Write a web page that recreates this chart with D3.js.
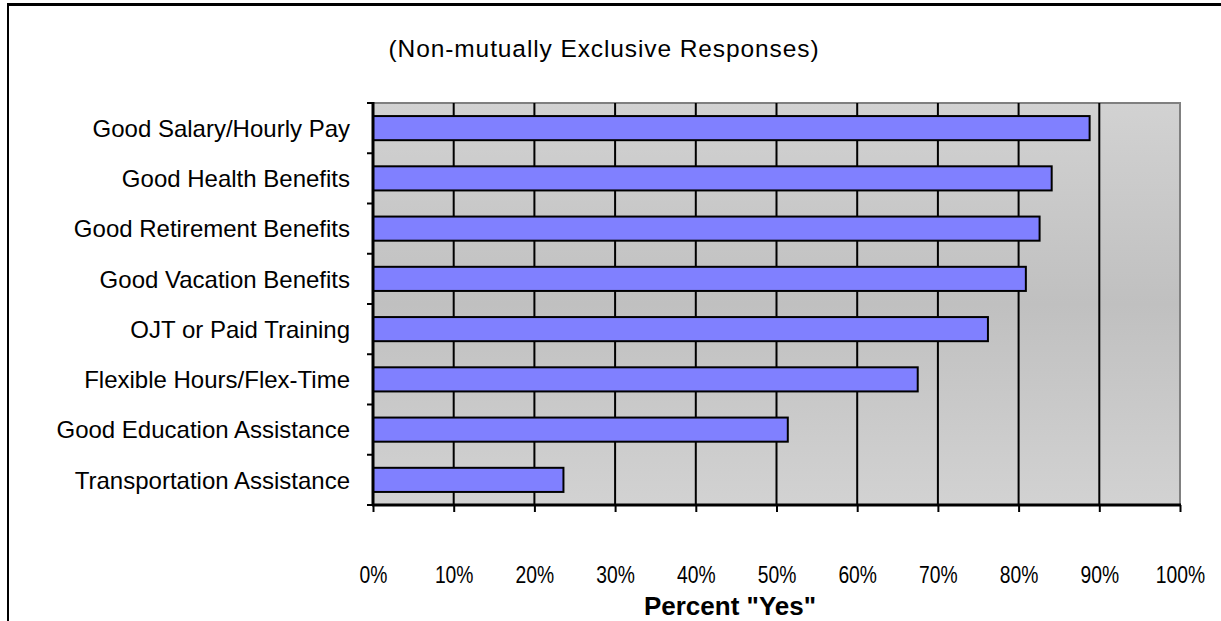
<!DOCTYPE html>
<html>
<head>
<meta charset="utf-8">
<script src="https://cdn.jsdelivr.net/npm/d3@7"></script>
<style>
  html, body { margin: 0; padding: 0; background: #ffffff; }
  svg { display: block; }
  text { font-family: "Liberation Sans", Arial, Helvetica, sans-serif; }
</style>
</head>
<body>
<svg id="chart" width="1221" height="621"></svg>
<script>
const categories = [
  "Good Salary/Hourly Pay",
  "Good Health Benefits",
  "Good Retirement Benefits",
  "Good Vacation Benefits",
  "OJT or Paid Training",
  "Flexible Hours/Flex-Time",
  "Good Education Assistance",
  "Transportation Assistance"
];
const values = [0.888, 0.841, 0.826, 0.809, 0.762, 0.675, 0.514, 0.236];
const xTicks = [0, 0.1, 0.2, 0.3, 0.4, 0.5, 0.6, 0.7, 0.8, 0.9, 1.0];
const subtitle = "(Non-mutually Exclusive Responses)";
const xTitle = "Percent \"Yes\"";

const svg = d3.select("#chart");
const plot = { left: 373, right: 1180, top: 103, bottom: 505 };

const x = d3.scaleLinear().domain([0, 1]).range([plot.left, plot.right]);
const y = d3.scaleBand().domain(categories).range([plot.top, plot.bottom])
  .paddingInner(0.52).paddingOuter(0.26);

// outer frame
svg.append("line").attr("x1", 7).attr("x2", 1221).attr("y1", 4.5).attr("y2", 4.5)
  .attr("stroke", "#000").attr("stroke-width", 3);
svg.append("line").attr("x1", 8).attr("x2", 8).attr("y1", 3).attr("y2", 621)
  .attr("stroke", "#000").attr("stroke-width", 2);

// gradient background
const defs = svg.append("defs");
const grad = defs.append("linearGradient").attr("id", "bg")
  .attr("x1", 0).attr("x2", 0).attr("y1", 0).attr("y2", 1);
grad.append("stop").attr("offset", "0%").attr("stop-color", "#d2d2d2");
grad.append("stop").attr("offset", "50%").attr("stop-color", "#c0c0c0");
grad.append("stop").attr("offset", "100%").attr("stop-color", "#d2d2d2");

svg.append("rect")
  .attr("x", plot.left).attr("y", plot.top)
  .attr("width", plot.right - plot.left).attr("height", plot.bottom - plot.top)
  .attr("fill", "url(#bg)").attr("stroke", "#808080").attr("stroke-width", 2);

// vertical gridlines
svg.append("g").selectAll("line").data(xTicks.slice(1, -1)).join("line")
  .attr("x1", d => x(d)).attr("x2", d => x(d))
  .attr("y1", plot.top).attr("y2", plot.bottom)
  .attr("stroke", "#000").attr("stroke-width", 2);

// bars
svg.append("g").selectAll("rect").data(values).join("rect")
  .attr("x", x(0))
  .attr("y", (d, i) => y(categories[i]))
  .attr("width", d => x(d) - x(0))
  .attr("height", y.bandwidth())
  .attr("fill", "#8080ff")
  .attr("stroke", "#000").attr("stroke-width", 2);

// y axis
const yAxis = svg.append("g").attr("transform", `translate(${plot.left},0)`);
yAxis.append("line").attr("x1", 0).attr("x2", 0).attr("y1", plot.top - 1).attr("y2", plot.bottom + 1)
  .attr("stroke", "#000").attr("stroke-width", 3);
yAxis.selectAll("line.tick").data(d3.range(categories.length + 1)).join("line")
  .attr("class", "tick")
  .attr("x1", -6).attr("x2", 0)
  .attr("y1", i => i === categories.length ? plot.bottom : y(categories[i]) - y.step() * y.paddingInner() / 2)
  .attr("y2", i => i === categories.length ? plot.bottom : y(categories[i]) - y.step() * y.paddingInner() / 2)
  .attr("stroke", "#000").attr("stroke-width", 2);
yAxis.selectAll("text").data(categories).join("text")
  .attr("x", -23)
  .attr("y", d => y(d) + y.bandwidth() / 2)
  .attr("dy", "0.36em")
  .attr("text-anchor", "end")
  .attr("font-size", 24)
  .attr("fill", "#000")
  .text(d => d);

// x axis
const xAxis = svg.append("g").attr("transform", `translate(0,${plot.bottom})`)
  .call(d3.axisBottom(x).tickValues(xTicks).tickFormat(d3.format(".0%")).tickSize(7).tickPadding(55));
xAxis.select(".domain").attr("stroke", "#000").attr("stroke-width", 3)
  .attr("d", `M${plot.left - 1},0H${plot.right + 1}`);
xAxis.selectAll(".tick line").attr("stroke", "#000").attr("stroke-width", 2);
xAxis.selectAll(".tick text")
  .attr("font-family", "'Liberation Sans', Arial, sans-serif")
  .attr("font-size", 23).attr("fill", "#000")
  .attr("transform", "scale(0.84,1)");

// subtitle
svg.append("text").attr("x", 604).attr("y", 57).attr("text-anchor", "middle")
  .attr("font-size", 24.5).attr("letter-spacing", 0.9).attr("fill", "#000").text(subtitle);

// axis title
svg.append("text").attr("x", 730).attr("y", 615).attr("text-anchor", "middle")
  .attr("font-size", 26).attr("font-weight", "bold").attr("fill", "#000").text(xTitle);
</script>
</body>
</html>
